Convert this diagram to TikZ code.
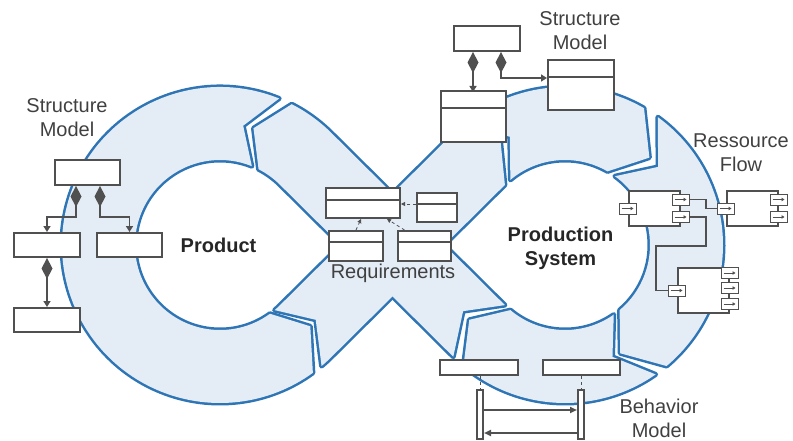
\documentclass[tikz,border=0pt]{standalone}
\usepackage{fontspec}
\setmainfont{Liberation Sans}
\usetikzlibrary{shapes,arrows.meta,calc}
\definecolor{ringblue}{RGB}{46,117,182}
\definecolor{ringlight}{RGB}{228,236,246}
\definecolor{umlgray}{RGB}{80,80,80}
\definecolor{txtgray}{RGB}{64,64,64}
\begin{document}
\begin{tikzpicture}[x=1pt,y=-1pt]
\tikzstyle{segline}=[draw=ringblue,line width=5pt,line join=round]
\tikzstyle{segfill}=[fill=ringlight]
\tikzstyle{umlbox}=[draw=umlgray,fill=white,line width=2pt,inner sep=0pt,anchor=north west]
\tikzstyle{cls}=[umlbox,rectangle split,rectangle split parts=2]
\tikzstyle{port}=[draw=umlgray,fill=white,line width=0.9pt,minimum width=17pt,minimum height=11pt,inner sep=0pt,
  path picture={\draw[umlgray,line width=0.9pt,-{Triangle[length=3pt,width=3.5pt]}] ([xshift=2pt]path picture bounding box.west) -- ([xshift=-3pt]path picture bounding box.east);}]
\tikzstyle{comp}=[draw=umlgray,line width=1.8pt,arrows={Diamond[length=21pt,width=11pt]-Triangle[length=6pt,width=7pt]}]
\tikzstyle{dep}=[draw=umlgray,line width=0.8pt,dashed,-{Triangle[length=4pt,width=4pt]}]
\tikzstyle{msg}=[draw=umlgray,line width=1.8pt,-{Triangle[length=7pt,width=6pt]}]
\tikzstyle{wire}=[draw=umlgray,line width=1.8pt]
\tikzstyle{life}=[draw=umlgray,line width=1pt,dashed]
\tikzstyle{lbl}=[text=txtgray,font=\fontsize{20}{24}\selectfont,align=center]
\tikzstyle{big}=[text=black!85,font=\bfseries\fontsize{20}{24}\selectfont,align=center]
\useasboundingbox (0,0) rectangle (793,441);
\coordinate (cl) at (220,245);
\coordinate (cr) at (565,245);
\foreach \pass in {segline,segfill}{
  \path[\pass] ($(cl)+(-68:158)$) arc[start angle=-68,end angle=-306,radius=158] -- ($(cl)+(-318:121.5)$)
    -- ($(cl)+(-306:85)$) arc[start angle=-306,end angle=-68,radius=85] -- ($(cl)+(-79:121.5)$) -- cycle;
  \path[\pass] ($(cr)+(-130:158)$) arc[start angle=-130,end angle=-60,radius=158] -- ($(cr)+(-46:121.5)$)
    -- ($(cr)+(-60:85)$) arc[start angle=-60,end angle=-130,radius=85] -- ($(cr)+(-117:121.5)$) -- cycle;
  \path[\pass] ($(cr)+(-54:158)$) arc[start angle=-54,end angle=50,radius=158] -- ($(cr)+(63:121.5)$)
    -- ($(cr)+(50:85)$) arc[start angle=50,end angle=-54,radius=85] -- ($(cr)+(-40:121.5)$) -- cycle;
  \path[\pass] ($(cr)+(55:158)$) arc[start angle=55,end angle=130,radius=158] -- ($(cr)+(142:121.5)$)
    -- ($(cr)+(130:85)$) arc[start angle=130,end angle=55,radius=85] -- ($(cr)+(67:121.5)$) -- cycle;
  \path[\pass] ($(cl)+(50:158)$) arc[start angle=50,end angle=45,radius=158] -- ($(cr)+(-135:85)$)
    -- ($(cr)+(-122:121.5)$) -- ($(cr)+(-135:158)$) -- ($(cl)+(45:85)$) arc[start angle=45,end angle=50,radius=85]
    -- ($(cl)+(38:121.5)$) -- cycle;
  \path[\pass] ($(cr)+(135:158)$) -- ($(cl)+(-45:85)$) arc[start angle=-45,end angle=-63,radius=85]
    -- ($(cl)+(-74:121.5)$) -- ($(cl)+(-63:158)$) arc[start angle=-63,end angle=-45,radius=158]
    -- ($(cr)+(135:85)$) -- ($(cr)+(147:121.5)$) -- cycle;
}
\node[big] (prod) at (218.5,245.5) {Product};
\node[big] (psys) at (560.5,248) {Production\\System};
\node[lbl] (smlbl) at (67,117.5) {Structure\\Model};
\node[umlbox,minimum width=65pt,minimum height=25pt] (smtop) at (54,159) {};
\node[umlbox,minimum width=66pt,minimum height=24pt] (sma) at (13,232) {};
\node[umlbox,minimum width=65pt,minimum height=24pt] (smb) at (96,232) {};
\node[umlbox,minimum width=66pt,minimum height=24pt] (smc) at (13,307) {};
\draw[comp] ([xshift=-11.5pt]smtop.south) -- ++(0,31) -| (sma.north);
\draw[comp] ([xshift=12.5pt]smtop.south) -- ++(0,31) -| (smb.north);
\draw[comp] (sma.south) -- (smc.north);
\node[lbl] (tslbl) at (580,31) {Structure\\Model};
\node[umlbox,minimum width=66pt,minimum height=25pt] (tstop) at (453,25) {};
\node[cls,minimum width=65pt] (tsa) at (440,90) {\rule{0pt}{15pt}\nodepart{two}\rule{0pt}{32pt}};
\node[cls,minimum width=66pt] (tsb) at (547,59) {\rule{0pt}{15pt}\nodepart{two}\rule{0pt}{31pt}};
\coordinate (tsin) at ([yshift=-19pt]tsb.north west);
\draw[comp] ([xshift=-14pt]tstop.south) -- ++(0,40);
\draw[comp] ([xshift=14pt]tstop.south) |- (tsin);
\node[cls,minimum width=74pt] (rqm) at (325,187) {\rule{0pt}{10pt}\nodepart{two}\rule{0pt}{16pt}};
\node[cls,minimum width=40pt] (rqr) at (416,192) {\rule{0pt}{9pt}\nodepart{two}\rule{0pt}{16pt}};
\node[cls,minimum width=54pt] (rqa) at (328,230) {\rule{0pt}{9pt}\nodepart{two}\rule{0pt}{17pt}};
\node[cls,minimum width=53pt] (rqb) at (397,230) {\rule{0pt}{9pt}\nodepart{two}\rule{0pt}{17pt}};
\coordinate (rqin) at ([yshift=-12pt]rqr.north west);
\draw[dep] (rqin) -- (rqin -| rqm.east);
\draw[dep] (rqa.north) -- ([xshift=-2pt]rqm.south);
\draw[dep] ([xshift=-20pt]rqb.north) -- ([xshift=-14pt]rqm.south east);
\node[lbl] (rqlbl) at (393,273) {Requirements};
\node[lbl] (rflbl) at (741,153) {Ressource\\Flow};
\node[umlbox,minimum width=51pt,minimum height=35pt] (cpa) at (628,190) {};
\node[umlbox,minimum width=51pt,minimum height=35pt] (cpb) at (726,190) {};
\node[umlbox,minimum width=51pt,minimum height=45pt] (cpc) at (677,267) {};
\node[port] (cpain) at (cpa.west) {};
\node[port] (cpao1) at ([yshift=-9.5pt]cpa.north east) {};
\node[port] (cpao2) at ([yshift=-27pt]cpa.north east) {};
\node[port] (cpbin) at (cpb.west) {};
\node[port] (cpbo1) at ([yshift=-9.5pt]cpb.north east) {};
\node[port] (cpbo2) at ([yshift=-27pt]cpb.north east) {};
\node[port] (cpcin) at (cpc.west) {};
\node[port] (cpco1) at ([yshift=-6pt]cpc.north east) {};
\node[port] (cpco2) at ([yshift=-21pt]cpc.north east) {};
\node[port] (cpco3) at ([yshift=-37pt]cpc.north east) {};
\draw[wire] (cpao1.east) -- ++(16,0) |- (cpbin.west);
\draw[wire] (cpao2.east) -- ++(16,0) -- ++(0,29) -| ([xshift=-12pt]cpcin.west) -- (cpcin.west);
\node[umlbox,minimum width=78pt,minimum height=15pt] (bva) at (439,359) {};
\node[umlbox,minimum width=77pt,minimum height=15pt] (bvb) at (542,359) {};
\node[umlbox,minimum width=6pt,minimum height=49pt] (bar1) at (476,389) {};
\node[umlbox,minimum width=6pt,minimum height=49pt] (bar2) at (577,389) {};
\draw[life] (bar1.north |- bva.south) -- (bar1.north);
\draw[life] (bar2.north |- bvb.south) -- (bar2.north);
\draw[msg] ([yshift=-21pt]bar1.north east) -- ([yshift=-21pt]bar2.north west);
\draw[msg] ([yshift=-44pt]bar2.north west) -- ([yshift=-44pt]bar1.north east);
\node[lbl] (bmlbl) at (659,418) {Behavior\\Model};
\end{tikzpicture}
\end{document}
